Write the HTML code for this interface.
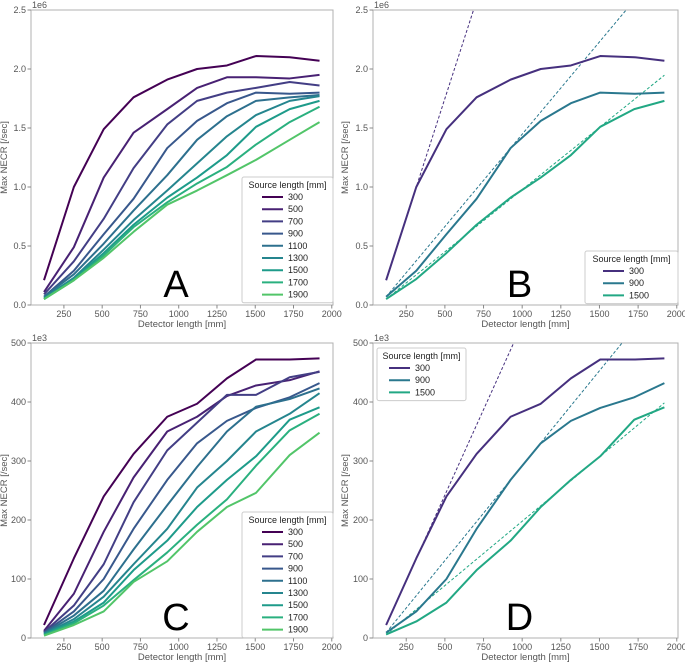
<!DOCTYPE html>
<html><head><meta charset="utf-8"><style>
body{margin:0;background:#fff;}
svg{display:block;font-family:"Liberation Sans","DejaVu Sans",sans-serif;}
</style></head><body>
<svg id="fig" width="685" height="662" viewBox="0 0 685 662"></svg>
<script>
const NS='http://www.w3.org/2000/svg';
const detectorX=[120,315,510,705,925,1120,1315,1505,1725,1920];
const sources=['300','500','700','900','1100','1300','1500','1700','1900'];
const colors9=['#440154','#482173','#433e85','#38588c','#2d708e','#25858e','#1e9b8a','#2ab07f','#52c569'];
const colors3=['#46307e','#2a788e','#22a884'];
// NECR (1e6) panel A/B
const necrA300=[0.21,1.0,1.49,1.76,1.91,2.0,2.03,2.11,2.10,2.07];
const necrA500=[0.11,0.49,1.08,1.46,1.66,1.84,1.93,1.93,1.92,1.95];
const necrA700=[0.09,0.37,0.73,1.16,1.53,1.73,1.80,1.84,1.89,1.86];
const necrA900=[0.07,0.29,0.60,0.90,1.33,1.56,1.71,1.80,1.79,1.80];
const necrA1100=[0.07,0.26,0.52,0.80,1.10,1.40,1.60,1.73,1.76,1.78];
const necrA1300=[0.06,0.23,0.47,0.72,0.97,1.20,1.43,1.61,1.73,1.77];
const necrA1500=[0.05,0.22,0.44,0.68,0.91,1.08,1.27,1.51,1.66,1.73];
const necrA1700=[0.05,0.21,0.42,0.66,0.87,1.03,1.17,1.36,1.55,1.68];
const necrA1900=[0.05,0.21,0.40,0.62,0.85,0.97,1.10,1.23,1.40,1.55];
// NECR (1e3) panel C/D
const necrC300=[22,135,240,312,375,397,440,472,472,474];
const necrC500=[12,75,180,272,350,375,410,428,437,452];
const necrC700=[10,55,125,230,318,365,412,412,442,451];
const necrC900=[9,45,100,185,268,330,368,390,408,432];
const necrC1100=[8,38,80,150,225,290,350,392,405,423];
const necrC1300=[7,32,70,125,185,255,300,350,380,415];
const necrC1500=[6,28,60,115,165,222,268,308,370,391];
const necrC1700=[5,25,55,98,145,192,235,292,352,380];
const necrC1900=[4,22,45,95,130,180,222,246,310,348];
const xTicks=[250,500,750,1000,1250,1500,1750,2000];
const yTicksA=['0.0','0.5','1.0','1.5','2.0','2.5'];
const yTicksC=['0','100','200','300','400','500'];
// index of data point the dashed linear fit passes through (with first point)
const fitIdx=[1,4,7];

const svg=document.getElementById('fig');
function mk(tag,attrs,parent,text){const e=document.createElementNS(NS,tag);for(const k in attrs)e.setAttribute(k,attrs[k]);if(text!==undefined)e.textContent=text;(parent||svg).appendChild(e);return e;}

function panel(o){
  const g=mk('g',{});
  
  
  const X=v=>o.L+(v-35)/(2008-35)*(o.R-o.L);
  const Y=v=>o.B-v/o.ymax*(o.B-o.T);
  const clip='clip'+o.letter;
  const cp=mk('clipPath',{id:clip},g);mk('rect',{x:o.L,y:o.T,width:o.R-o.L,height:o.B-o.T},cp);
  const fr=mk('rect',{x:o.L,y:o.T,width:o.R-o.L,height:o.B-o.T,fill:'none',stroke:'#b0b0b0','stroke-width':1},g);
  
  xTicks.forEach(t=>{const x=X(t);mk('line',{x1:x,x2:x,y1:o.B,y2:o.B+3.5,stroke:'#888'},g);
    const tl=mk('text',{x:x,y:o.B+12,'font-size':9,fill:'#555','text-anchor':'middle'},g,t);
    });
  o.yticks.forEach((t,i)=>{const y=Y(i*o.ymax/5);mk('line',{x1:o.L-3.5,x2:o.L,y1:y,y2:y,stroke:'#888'},g);
    const tl=mk('text',{x:o.L-5,y:y+3.2,'font-size':9,fill:'#555','text-anchor':'end'},g,t);
    });
  const ex=mk('text',{x:o.L+1,y:o.T-2,'font-size':9,fill:'#555'},g,o.exp);
  
  const xt=mk('text',{x:(o.L+o.R)/2,y:o.B+22,'font-size':9.5,fill:'#555','text-anchor':'middle'},g,'Detector length [mm]');
  
  const cy=(o.T+o.B)/2;
  const yt=mk('text',{x:o.yTitleX,y:cy,'font-size':9.5,fill:'#555','text-anchor':'middle',transform:`rotate(-90 ${o.yTitleX} ${cy})`},g,'Max NECR [/sec]');
  
  const big=mk('text',{x:(o.L+o.R)/2-6,y:o.B-8,'font-size':38,fill:'#000','text-anchor':'middle'},g,o.letter);
  
  // dashed fits
  if(o.fits){o.series.forEach((s,i)=>{const k=fitIdx[i];const x0=detectorX[0],y0=s.v[0],x1=detectorX[k],y1=s.v[k];
    const m=(y1-y0)/(x1-x0);const xe=1920;
    const dl=mk('line',{x1:X(x0),y1:Y(y0),x2:X(xe),y2:Y(y0+m*(xe-x0)),stroke:s.c,'stroke-width':1,'stroke-dasharray':'3,2','clip-path':`url(#${clip})`},g);
    });}
  o.series.forEach(s=>{const p=mk('polyline',{points:s.v.map((v,i)=>X(detectorX[i])+','+Y(v)).join(' '),fill:'none',stroke:s.c,'stroke-width':2,'stroke-linejoin':'round'},g);
    });
  // legend
  const lg=o.leg;const n=o.series.length;const h=16+n*12.2;
  const lb=mk('g',{},g);
  mk('rect',{x:lg.x,y:lg.y,width:lg.w,height:h,rx:2,fill:'#fff','fill-opacity':0.85,stroke:'#ccc'},lb);
  mk('text',{x:lg.x+lg.w/2,y:lg.y+11,'font-size':9,fill:'#222','text-anchor':'middle'},lb,'Source length [mm]');
  o.series.forEach((s,i)=>{const y=lg.y+23+i*12.2;
    const e=mk('g',{},lb);
    mk('line',{x1:lg.x+lg.lx,x2:lg.x+lg.lx+21,y1:y-3,y2:y-3,stroke:s.c,'stroke-width':2},e);
    mk('text',{x:lg.x+lg.lx+26,y:y,'font-size':9,fill:'#222'},e,s.n);});
}
const allA=[necrA300,necrA500,necrA700,necrA900,necrA1100,necrA1300,necrA1500,necrA1700,necrA1900];
const allC=[necrC300,necrC500,necrC700,necrC900,necrC1100,necrC1300,necrC1500,necrC1700,necrC1900];
panel({letter:'A',L:31,R:333,T:10,B:305,ymax:2.5,yticks:yTicksA,exp:'1e6',yTitleX:7,
  series:allA.map((v,i)=>({v:v,c:colors9[i],n:sources[i]})),leg:{x:242,y:177,w:91,lx:20}});
panel({letter:'B',L:373,R:678,T:10,B:305,ymax:2.5,yticks:yTicksA,exp:'1e6',yTitleX:348,fits:true,
  series:[{v:necrA300,c:colors3[0],n:'300'},{v:necrA900,c:colors3[1],n:'900'},{v:necrA1500,c:colors3[2],n:'1500'}],leg:{x:585,y:251,w:93,lx:18}});
panel({letter:'C',L:31,R:333,T:343,B:638,ymax:500,yticks:yTicksC,exp:'1e3',yTitleX:7,
  series:allC.map((v,i)=>({v:v,c:colors9[i],n:sources[i]})),leg:{x:242,y:512,w:91,lx:20}});
panel({letter:'D',L:373,R:678,T:343,B:638,ymax:500,yticks:yTicksC,exp:'1e3',yTitleX:348,fits:true,
  series:[{v:necrC300,c:colors3[0],n:'300'},{v:necrC900,c:colors3[1],n:'900'},{v:necrC1500,c:colors3[2],n:'1500'}],leg:{x:377,y:348,w:89,lx:12}});
</script>
</body></html>
